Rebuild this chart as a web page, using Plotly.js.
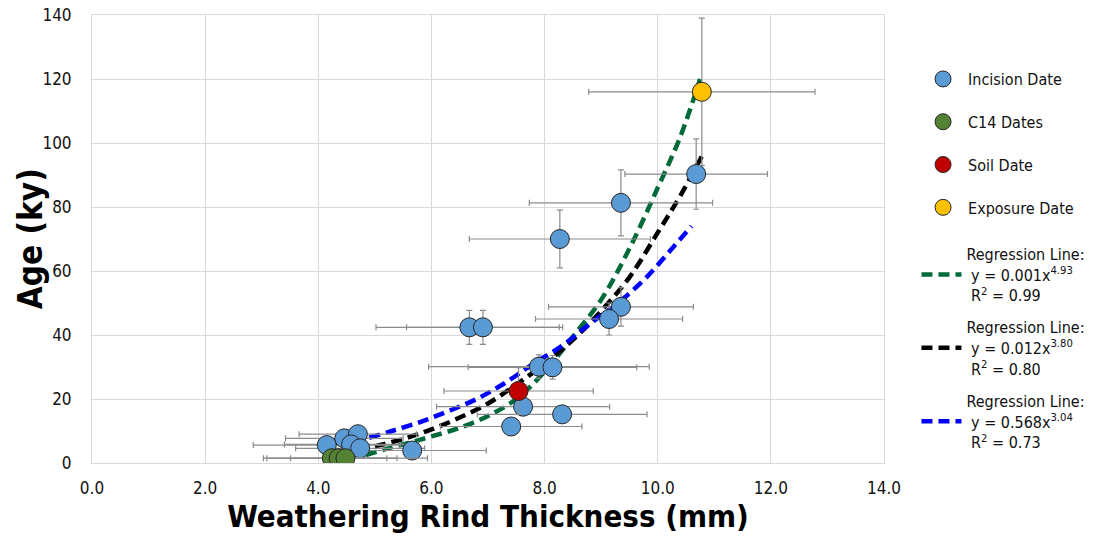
<!DOCTYPE html>
<html>
<head>
<meta charset="utf-8">
<script src="https://cdn.plot.ly/plotly-3.0.1.min.js"></script>
<style>
  body { margin: 0; background: #fff; }
  #chart { width: 1094px; height: 540px; }
</style>
</head>
<body>
<div id="chart"></div>
<script>
// incision dates (blue)
var incision_x  = [10.68, 9.35, 8.27, 6.67, 6.91, 7.90, 8.14, 9.35, 9.14, 7.62, 8.31, 7.41, 4.15, 4.46, 4.70, 4.58, 4.74, 5.66];
var incision_y  = [90.3, 81.3, 70.0, 42.4, 42.4, 30.1, 29.9, 48.8, 45.0, 17.6, 15.2, 11.4, 5.6, 7.7, 9.0, 5.8, 4.6, 3.9];
var incision_ex = [1.26, 1.62, 1.60, 1.65, 1.35, 1.95, 1.49, 1.28, 1.30, 1.53, 1.50, 1.25, 1.30, 1.04, 1.04, 1.18, 1.14, 1.31];
var incision_ey = [11.0, 10.3, 9.0, 5.3, 5.3, 3.7, 3.7, 6.0, 5.0, 0, 0, 0, 0, 0, 0, 0, 0, 0];

// C14 dates (green)
var c14_x  = [4.24, 4.36, 4.48];
var c14_y  = [1.5, 1.5, 1.5];
var c14_ex = [1.15, 0.85, 1.45];

// soil date (red)
var soil_x = [7.54], soil_y = [22.5], soil_ex = [1.32], soil_ey = [7.3];

// exposure date (yellow)
var exp_x = [10.78], exp_y = [116], exp_ex = [2.0], exp_ey = [23];

// regression curves
var reg1_x = [4.84, 5.2, 5.6, 6.0, 6.5, 7.0, 7.5, 8.0, 8.5, 9.0, 9.5, 10.0, 10.4, 10.75];
var reg1_y = [2.5, 4.4, 6.3, 8.3, 11.0, 14.7, 20.0, 28.5, 39.5, 51.0, 67.0, 86.0, 102.0, 120.0];
var reg2_x = [5.0, 5.5, 6.0, 6.5, 7.0, 7.5, 8.0, 8.5, 9.0, 9.5, 10.0, 10.4, 10.8];
var reg2_y = [5.2, 7.5, 10.5, 14.2, 18.6, 24.5, 31.0, 38.5, 47.5, 58.0, 72.0, 83.5, 96.5];
var reg3_x = [4.9, 5.3, 5.8, 6.3, 6.8, 7.3, 7.8, 8.3, 8.8, 9.3, 9.8, 10.3, 10.6];
var reg3_y = [7.9, 10.0, 12.8, 16.2, 20.0, 25.0, 31.0, 36.5, 43.5, 50.0, 58.0, 68.0, 74.0];

var FONT = 'DejaVu Sans Condensed, DejaVu Sans, sans-serif';
var ERR = {color: '#8c8c8c', thickness: 1.2, width: 3};

function errbar(arr) { return Object.assign({type: 'data', array: arr, visible: true}, ERR); }

function pts(name, x, y, ex, ey, color, rank) {
    var t = {x: x, y: y, mode: 'markers', type: 'scatter', name: name,
             legend: 'legend', legendrank: rank, legendgroup: name,
             marker: {size: 19, color: color, line: {color: '#262626', width: 1}},
             error_x: errbar(ex)};
    if (ey) { t.error_y = errbar(ey); }
    return t;
}

function reg(label, x, y, color, rank) {
    return {x: x, y: y, mode: 'lines', type: 'scatter', name: label,
            legend: 'legend2', legendrank: rank, legendgroup: label,
            line: {color: color, width: 4.5, dash: '11px,6px', shape: 'spline'}};
}

var data = [
    reg('Regression Line:<br> y = 0.001x<sup>4.93</sup><br> R<sup>2</sup> = 0.99', reg1_x, reg1_y, '#006b38', 5),
    reg('Regression Line:<br> y = 0.012x<sup>3.80</sup><br> R<sup>2</sup> = 0.80', reg2_x, reg2_y, '#000000', 6),
    reg('Regression Line:<br> y = 0.568x<sup>3.04</sup><br> R<sup>2</sup> = 0.73', reg3_x, reg3_y, '#0000ff', 7),
    pts('Incision Date', incision_x, incision_y, incision_ex, incision_ey, '#5b9bd5', 1),
    pts('C14 Dates', c14_x, c14_y, c14_ex, null, '#548235', 2),
    pts('Soil Date', soil_x, soil_y, soil_ex, soil_ey, '#c00000', 3),
    pts('Exposure Date', exp_x, exp_y, exp_ex, exp_ey, '#ffc000', 4)
];

var legendBase = {xanchor: 'left', yanchor: 'top', itemwidth: 40,
                  bgcolor: 'rgba(0,0,0,0)',
                  font: {family: FONT, size: 16, color: '#111'}};

var layout = {
    width: 1094, height: 540,
    margin: {l: 92, r: 210, t: 15, b: 77, pad: 0, autoexpand: false},
    paper_bgcolor: '#ffffff', plot_bgcolor: '#ffffff',
    font: {family: FONT, size: 17, color: '#111'},
    showlegend: true,
    legend: Object.assign({x: 1.043, y: 0.895, tracegroupgap: 19}, legendBase),
    legend2: Object.assign({x: 1.041, y: 0.505, tracegroupgap: 8}, legendBase),
    xaxis: {range: [0, 14], dtick: 2, tickformat: '.1f',
            showgrid: true, gridcolor: '#d9d9d9', gridwidth: 1,
            showline: true, linecolor: '#d9d9d9', mirror: true, zeroline: false,
            ticks: '', ticklabelstandoff: 10,
            tickfont: {family: FONT, size: 17, color: '#111'},
            title: {text: 'Weathering Rind Thickness (mm)', standoff: 6,
                    font: {family: FONT, size: 31, color: '#000', weight: 'bold'}}},
    yaxis: {range: [0, 140], dtick: 20,
            showgrid: true, gridcolor: '#d9d9d9', gridwidth: 1,
            showline: true, linecolor: '#d9d9d9', mirror: true, zeroline: false,
            ticks: '', ticklabelstandoff: 16,
            tickfont: {family: FONT, size: 17, color: '#111'}},
    annotations: [{text: 'Age (ky)', xref: 'paper', yref: 'paper',
                   x: -0.078, y: 0.5, xanchor: 'center', yanchor: 'middle',
                   textangle: -90, showarrow: false,
                   font: {family: FONT, size: 33, color: '#000', weight: 'bold'}}]
};

var config = {displayModeBar: false, responsive: false};

Plotly.newPlot(document.getElementById('chart'), data, layout, config);
</script>
</body>
</html>
